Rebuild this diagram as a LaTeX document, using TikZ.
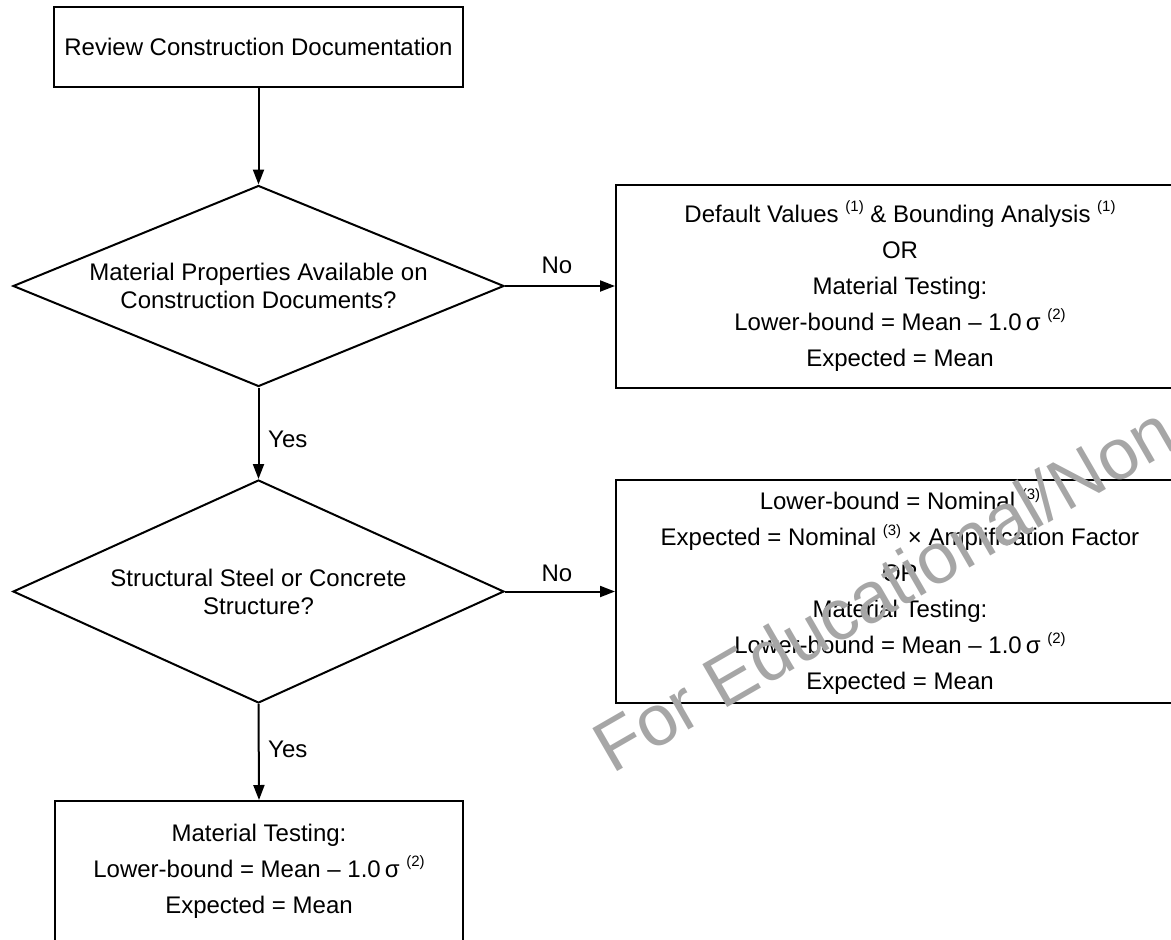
\documentclass[tikz,border=0pt]{standalone}
\usepackage{fontspec}
\setmainfont{Liberation Sans}
\usetikzlibrary{shapes.geometric,arrows.meta}
\newcommand\supx[1]{\raisebox{0.45em}{\fontsize{15}{15}\selectfont(#1)}}
\begin{document}
\begin{tikzpicture}[x=1pt,y=-1pt,
  every node/.style={font=\fontsize{24}{36}\selectfont},
  box/.style={draw, line width=2pt, rectangle, inner sep=0pt, align=center},
  dia/.style={draw, line width=2pt, diamond, inner sep=0pt, align=center, font=\fontsize{24}{28}\selectfont},
  conn/.style={line width=2pt, -{Triangle[length=15pt,width=11pt]}},
  lbl/.style={inner sep=0pt},
  wmark/.style={inner sep=0pt, text=black!35, font=\fontsize{72}{72}\selectfont}]
\useasboundingbox (0,0) rectangle (1171,940);
\clip (0,0) rectangle (1171,940);
\node[box, minimum width=409pt, minimum height=80pt] (top) at (258.5,47) {Review Construction Documentation};
\node[dia, minimum width=491pt, minimum height=201pt, aspect=2.44] (d1) at (258.5,286) {Material Properties Available on\\Construction Documents?};
\node[dia, minimum width=491pt, minimum height=223pt, aspect=2.2] (d2) at (258.5,591.5) {Structural Steel or Concrete\\Structure?};
\node[box, minimum width=568pt, minimum height=203pt] (r1) at (900,286) {Default Values \supx{1} \& Bounding Analysis \supx{1}\\OR\\Material Testing:\\Lower-bound = Mean – 1.0\,σ \supx{2}\\Expected = Mean};
\node[box, minimum width=568pt, minimum height=223pt] (r2) at (900,591.5) {Lower-bound = Nominal \supx{3}\\Expected = Nominal \supx{3} × Amplification Factor\\OR\\Material Testing:\\Lower-bound = Mean – 1.0\,σ \supx{2}\\Expected = Mean};
\node[box, minimum width=408pt, minimum height=141pt] (bot) at (259,871.5) {Material Testing:\\Lower-bound = Mean – 1.0\,σ \supx{2}\\Expected = Mean};
\draw[conn] (top.south) -- (d1.north);
\draw[conn] (d1.east) -- (r1.west);
\draw[conn] (d1.south) -- (d2.north);
\draw[conn] (d2.east) -- (r2.west);
\draw[conn] (d2.south) -- (bot.north);
\node[lbl] (no1) at (557,265) {No};
\node[lbl] (no2) at (557,573) {No};
\node[lbl, anchor=west] (yes1) at (268,439) {Yes};
\node[lbl, anchor=west] (yes2) at (268,749) {Yes};
\node[wmark, rotate=30, anchor=base west] (wm) at (612,775) {For Educational/Non};
\end{tikzpicture}
\end{document}
